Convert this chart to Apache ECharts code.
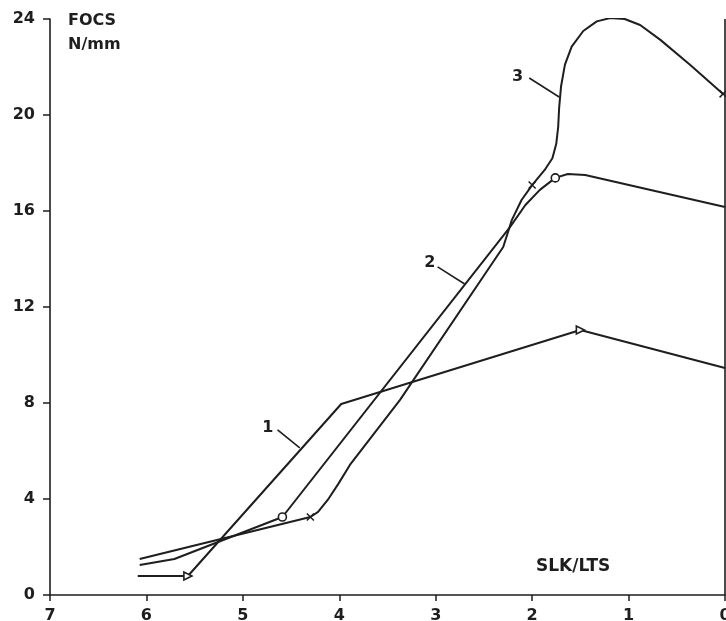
<!DOCTYPE html>
<html><head><meta charset="utf-8">
<script src="https://cdn.jsdelivr.net/npm/echarts@6/dist/echarts.min.js"></script>
<style>html,body{margin:0;padding:0;background:#fff}#c{width:726px;height:621px}</style>
</head><body><div id="c"></div>
<script>
// ---- data (x = SLK/LTS, y = FOCS N/mm) ----
const xTicks = [0, 1, 2, 3, 4, 5, 6, 7];
const yTicks = [0, 4, 8, 12, 16, 20, 24];

const curve1 = [[6.09,0.79],[5.57,0.79],[3.98,7.96],[1.50,11.04],[0,9.46]];
const curve1Marks = [1, 3];           // triangle markers

const curve2 = [[6.07,1.25],[5.71,1.50],[4.59,3.25],[2.23,15.33],[2.07,16.25],[1.92,16.88],[1.76,17.38],[1.63,17.54],[1.45,17.50],[0,16.17]];
const curve2Marks = [2, 6];           // circle markers

const curve3 = [[6.07,1.50],[4.30,3.25],[4.22,3.46],[4.12,3.96],[4.01,4.63],[3.89,5.42],[3.37,8.13],[2.30,14.50],[2.21,15.63],[2.11,16.46],[2.00,17.08],[1.87,17.71],[1.79,18.20],[1.75,18.80],[1.73,19.50],[1.72,20.30],[1.70,21.20],[1.66,22.10],[1.59,22.85],[1.47,23.50],[1.33,23.90],[1.19,24.04],[1.04,24.00],[0.88,23.75],[0.67,23.13],[0.36,22.08],[0.02,20.88]];
const curve3Marks = [1, 10, 21, 26];  // cross markers

const curveNames = ['1', '2', '3'];
const labelPos = [[4.74,6.96],[3.06,13.83],[2.15,21.60]];
const leaders = [[[4.64,6.88],[4.41,6.13]],[[2.98,13.67],[2.70,12.96]],[[2.03,21.54],[1.72,20.75]]];

// ---- styling ----
const INK = '#1e1e1e';
const FONT = 'DejaVu Sans';
const markerDefs = {
  tri:   {symbol:'triangle', symbolSize:8, symbolRotate:-90, itemStyle:{color:'#fff', borderColor:INK, borderWidth:1.6}},
  circ:  {symbol:'circle', symbolSize:8, itemStyle:{color:'#fff', borderColor:INK, borderWidth:1.6}},
  cross: {symbol:'path://M0,0L10,10M10,0L0,10', symbolSize:7, itemStyle:{color:INK, borderColor:INK, borderWidth:1.5}}
};
function build(points, marks, kind) {
  return points.map((p, i) => marks.includes(i) ? Object.assign({value:p}, markerDefs[kind]) : {value:p, symbol:'none'});
}
const kinds = ['tri', 'circ', 'cross'];
const curves = [curve1, curve2, curve3];
const marks = [curve1Marks, curve2Marks, curve3Marks];

const series = curves.map((c, k) => ({
  type:'line', name:curveNames[k], data:build(c, marks[k], kinds[k]),
  symbol:'none', showSymbol:true, smooth:false, silent:true, animation:false, z:3,
  lineStyle:{color:INK, width:2},
  itemStyle:{color:INK},
  markLine:{silent:true, symbol:'none', animation:false,
    lineStyle:{color:INK, width:1.6, type:'solid'}, label:{show:false},
    data:[[{coord:leaders[k][0]},{coord:leaders[k][1]}]]},
  markPoint:{silent:true, animation:false, symbol:'circle', symbolSize:1,
    itemStyle:{color:'rgba(0,0,0,0)'},
    label:{show:true, position:'inside', formatter:curveNames[k], color:INK, fontFamily:FONT, fontWeight:'bold', fontSize:16},
    data:[{coord:labelPos[k]}]}
}));

// right-hand frame line at x = 0
series.push({type:'line', data:[], silent:true, animation:false,
  markLine:{silent:true, symbol:'none', animation:false, label:{show:false},
    lineStyle:{color:INK, width:1.6, type:'solid'},
    data:[[{coord:[0, 0]},{coord:[0, 24]}]]}});

const chart = echarts.init(document.getElementById('c'), null, {renderer:'canvas'});
chart.setOption({
  animation:false,
  backgroundColor:'#fff',
  grid:{left:50, right:1, top:19, bottom:26, containLabel:false, outerBoundsMode:'none'},
  xAxis:{type:'value', inverse:true, min:0, max:7, interval:1,
    axisLine:{show:true, onZero:false, lineStyle:{color:INK, width:1.6}},
    axisTick:{show:true, length:6, lineStyle:{color:INK, width:1.5}},
    axisLabel:{color:INK, fontFamily:FONT, fontWeight:'bold', fontSize:16, margin:13,
      formatter:v => xTicks.includes(v) ? String(v) : ''},
    splitLine:{show:false}},
  yAxis:{type:'value', min:0, max:24, interval:4, position:'left',
    axisLine:{show:true, onZero:false, lineStyle:{color:INK, width:1.6}},
    axisTick:{show:true, length:7, lineStyle:{color:INK, width:1.5}},
    axisLabel:{color:INK, fontFamily:FONT, fontWeight:'bold', fontSize:16, margin:15,
      formatter:v => yTicks.includes(v) ? String(v) : ''},
    splitLine:{show:false}},
  graphic:[
    {type:'text', left:68, top:13, style:{text:'FOCS', fill:INK, font:'bold 16px "DejaVu Sans"'}},
    {type:'text', left:68, top:37, style:{text:'N/mm', fill:INK, font:'bold 16px "DejaVu Sans"'}},
    {type:'text', left:536, top:558, style:{text:'SLK/LTS', fill:INK, font:'bold 17px "DejaVu Sans"'}}
  ],
  series:series
});
</script>
</body></html>
